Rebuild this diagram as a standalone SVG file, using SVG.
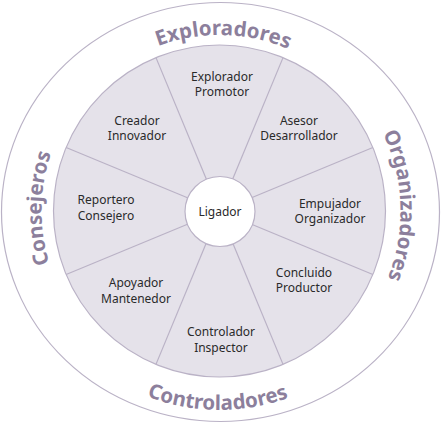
<svg xmlns="http://www.w3.org/2000/svg" width="441" height="423" viewBox="0 0 441 423">
<style>
.outer{fill:#ffffff;stroke:#bab2c6;stroke-width:1.2}
.disk{fill:#e5e2ea;stroke:#bab2c6;stroke-width:1.2}
.hub{fill:#ffffff;stroke:#bab2c6;stroke-width:1.2}
.div{stroke:#bab2c6;stroke-width:1.2;fill:none}
.lbl{font-family:"Noto Sans","Open Sans","DejaVu Sans",sans-serif;font-size:12px;fill:#2a2a2a;text-anchor:middle}
.grp{font-family:"Noto Sans","Open Sans","DejaVu Sans",sans-serif;font-size:20.5px;font-weight:bold;fill:#8c7f9c;text-anchor:middle}
</style>
<defs>
<path id="arcTop" d="M 43.5 211 A 176 176 0 0 1 395.5 211"/>
<path id="arcLeft" d="M 219.5 389 A 178 178 0 0 1 219.5 33"/>
<path id="arcRight" d="M 219.5 30 A 181 181 0 0 1 219.5 392"/>
<path id="arcBottom" d="M 20.5 211 A 199 199 0 0 0 418.5 211"/>
</defs>
<ellipse class="outer" cx="220.5" cy="212" rx="219" ry="209.5"/>
<circle class="disk" cx="219.5" cy="211" r="166"/>
<g id="dividers">
<line class="div" x1="232.51" y1="179.59" x2="283.03" y2="57.64"/>
<line class="div" x1="250.91" y1="197.99" x2="372.86" y2="147.47"/>
<line class="div" x1="250.91" y1="224.01" x2="372.86" y2="274.53"/>
<line class="div" x1="232.51" y1="242.41" x2="283.03" y2="364.36"/>
<line class="div" x1="206.49" y1="242.41" x2="155.97" y2="364.36"/>
<line class="div" x1="188.09" y1="224.01" x2="66.14" y2="274.53"/>
<line class="div" x1="188.09" y1="197.99" x2="66.14" y2="147.47"/>
<line class="div" x1="206.49" y1="179.59" x2="155.97" y2="57.64"/>
</g>
<g id="grupo-exploradores"><text class="grp"><textPath href="#arcTop" startOffset="50.7%">Exploradores</textPath></text></g>
<g id="grupo-organizadores"><text class="grp"><textPath href="#arcRight" startOffset="49%">Organizadores</textPath></text></g>
<g id="grupo-controladores"><text class="grp"><textPath href="#arcBottom" startOffset="49.7%">Controladores</textPath></text></g>
<g id="grupo-consejeros"><text class="grp"><textPath href="#arcLeft" startOffset="50.5%">Consejeros</textPath></text></g>
<g id="explorador-promotor"><text class="lbl" x="222" y="81">Explorador</text><text class="lbl" x="222" y="96">Promotor</text></g>
<g id="asesor-desarrollador"><text class="lbl" x="299" y="125">Asesor</text><text class="lbl" x="299" y="140">Desarrollador</text></g>
<g id="empujador-organizador"><text class="lbl" x="330" y="208">Empujador</text><text class="lbl" x="330" y="223">Organizador</text></g>
<g id="concluido-productor"><text class="lbl" x="304" y="277">Concluido</text><text class="lbl" x="304" y="292">Productor</text></g>
<g id="controlador-inspector"><text class="lbl" x="221" y="336">Controlador</text><text class="lbl" x="221" y="352">Inspector</text></g>
<g id="apoyador-mantenedor"><text class="lbl" x="136" y="287">Apoyador</text><text class="lbl" x="136" y="303">Mantenedor</text></g>
<g id="reportero-consejero"><text class="lbl" x="106" y="204">Reportero</text><text class="lbl" x="106" y="220">Consejero</text></g>
<g id="creador-innovador"><text class="lbl" x="137" y="125">Creador</text><text class="lbl" x="137" y="140">Innovador</text></g>
<g id="ligador"><circle class="hub" cx="220" cy="211.5" r="35"/><text class="lbl" x="220" y="216">Ligador</text></g>
</svg>
